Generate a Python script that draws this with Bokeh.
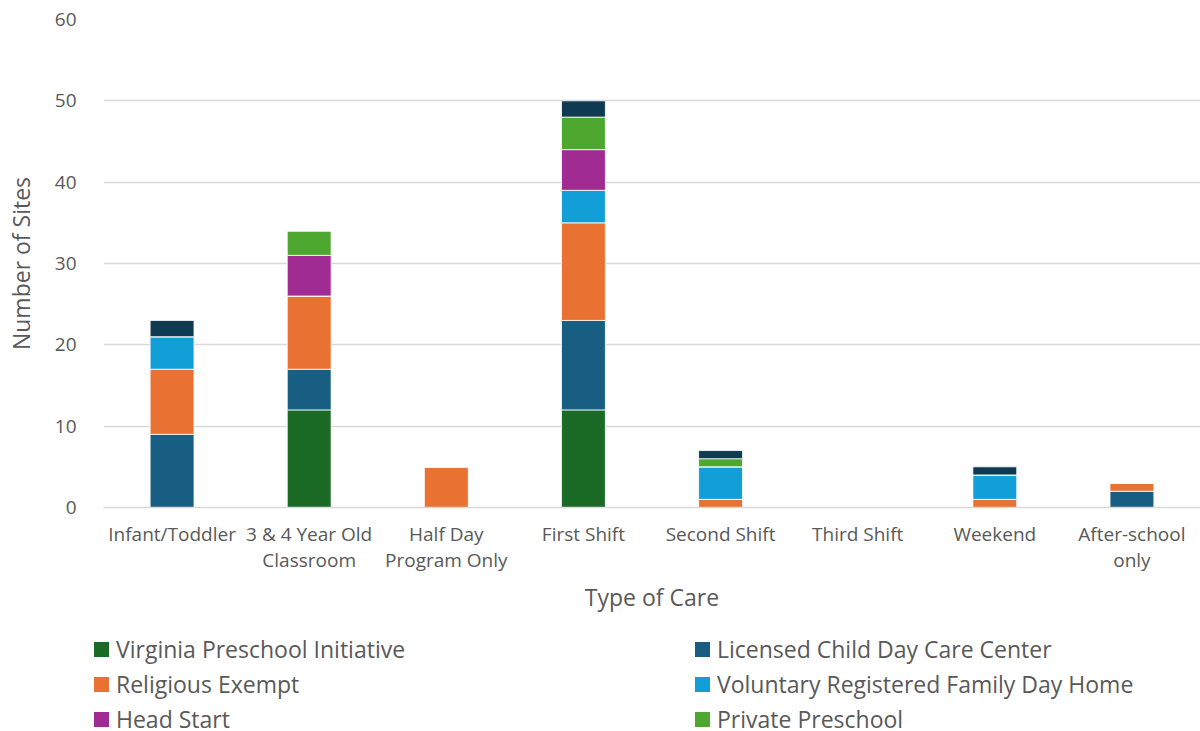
from bokeh.plotting import figure
from bokeh.layouts import column
from bokeh.models import (FactorRange, Range1d, SingleIntervalTicker, CategoricalAxis,
                          CustomJSTickFormatter, Div)
from bokeh.embed import file_html
from bokeh.resources import INLINE

# Types of care on the x axis
categories = ["Infant/Toddler", "3 & 4 Year Old Classroom", "Half Day Program Only",
              "First Shift", "Second Shift", "Third Shift", "Weekend", "After-school only"]
# Tick labels, split over two lines
label_line1 = ["Infant/Toddler", "3 & 4 Year Old", "Half Day", "First Shift",
               "Second Shift", "Third Shift", "Weekend", "After-school"]
label_line2 = ["", "Classroom", "Program Only", "", "", "", "", "only"]

# Number of sites per provider type (stacked bottom to top)
virginia_preschool = [0, 12, 0, 12, 0, 0, 0, 0]
licensed_center = [9, 5, 0, 11, 0, 0, 0, 2]
religious_exempt = [8, 9, 5, 12, 1, 0, 1, 1]
family_day_home = [4, 0, 0, 4, 4, 0, 3, 0]
head_start = [0, 5, 0, 5, 0, 0, 0, 0]
private_preschool = [0, 3, 0, 4, 1, 0, 0, 0]
other_provider = [2, 0, 0, 2, 1, 0, 1, 0]

series_names = ["Virginia Preschool Initiative", "Licensed Child Day Care Center",
                "Religious Exempt", "Voluntary Registered Family Day Home",
                "Head Start", "Private Preschool", "Other"]
series_keys = ["vpi", "lcdcc", "re", "vrfdh", "hs", "pp", "other"]
colors = ["#1b6b27", "#175e82", "#e97132", "#129fd8", "#a02b93", "#4ea72e", "#0e3a52"]

data = {"cat": categories, "vpi": virginia_preschool, "lcdcc": licensed_center,
        "re": religious_exempt, "vrfdh": family_day_home, "hs": head_start,
        "pp": private_preschool, "other": other_provider}

TEXT = "#595959"
GRID = "#d9d9d9"
FONT = "Open Sans"


def line_formatter(lines):
    return CustomJSTickFormatter(
        args=dict(cats=categories, lines=lines),
        code="const i = cats.indexOf(tick); return i >= 0 ? lines[i] : tick;")


p = figure(x_range=FactorRange(factors=categories), y_range=Range1d(0, 60),
           width=1200, height=620, output_backend="svg", toolbar_location=None,
           min_border_left=103, min_border_right=0, min_border_top=19,
           min_border_bottom=113)
p.outline_line_color = None
p.background_fill_color = "white"
p.border_fill_color = "white"

renderers = p.vbar_stack(series_keys, x="cat", width=0.32, source=data,
                         color=colors, line_color="white", line_width=0.8)

# y axis
yax = p.yaxis[0]
yax.ticker = SingleIntervalTicker(interval=10)
yax.axis_line_color = None
yax.major_tick_line_color = None
yax.minor_tick_line_color = None
yax.major_label_standoff = 21
yax.major_label_text_font = FONT
yax.major_label_text_font_size = "19px"
yax.major_label_text_color = TEXT
yax.axis_label = "Number of Sites"
yax.axis_label_text_font = FONT
yax.axis_label_text_font_size = "23px"
yax.axis_label_text_font_style = "normal"
yax.axis_label_text_color = TEXT
yax.axis_label_standoff = 15

# x axis: first line of each tick label
xax = p.xaxis[0]
xax.formatter = line_formatter(label_line1)
xax.axis_line_color = GRID
xax.axis_line_width = 1.3
xax.major_tick_line_color = None
xax.minor_tick_line_color = None
xax.major_label_standoff = 7
xax.major_label_text_font = FONT
xax.major_label_text_font_size = "19px"
xax.major_label_text_color = TEXT

# second line of the tick labels plus the axis title
xax2 = CategoricalAxis(formatter=line_formatter(label_line2),
                       axis_line_color=None, major_tick_line_color=None,
                       minor_tick_line_color=None, major_label_standoff=-9,
                       major_label_text_font=FONT, major_label_text_font_size="19px",
                       major_label_text_color=TEXT, axis_label="Type of Care",
                       axis_label_text_font=FONT, axis_label_text_font_size="23px",
                       axis_label_text_font_style="normal", axis_label_text_color=TEXT,
                       axis_label_standoff=5)
p.add_layout(xax2, "below")

p.xgrid.grid_line_color = None
p.ygrid.grid_line_color = GRID
p.ygrid.grid_line_width = 1.3

# Legend strip under the chart: two columns, three rows (first six series)
col_left = [94, 695]
row_top = [17, 52, 87]
entries = []
for k in range(6):
    left = col_left[k % 2]
    top = row_top[k // 2]
    entries.append(
        f'<div style="position:absolute;left:{left}px;top:{top}px;height:24px;'
        f'display:flex;align-items:center;white-space:nowrap;">'
        f'<span style="display:inline-block;width:15px;height:15px;'
        f'background:{colors[k]};margin-right:7px;"></span>'
        f'<span style="line-height:24px;">{series_names[k]}</span></div>')
legend_html = (f'<div style="position:relative;width:1200px;height:111px;'
               f'font-family:\'{FONT}\';font-size:23px;line-height:24px;color:{TEXT};'
               f'background:white;overflow:hidden;">' + "".join(entries) + '</div>')
legend_div = Div(text=legend_html, width=1200, height=111, margin=0)

open("out.html", "w").write(file_html(column(p, legend_div, spacing=0), INLINE))
